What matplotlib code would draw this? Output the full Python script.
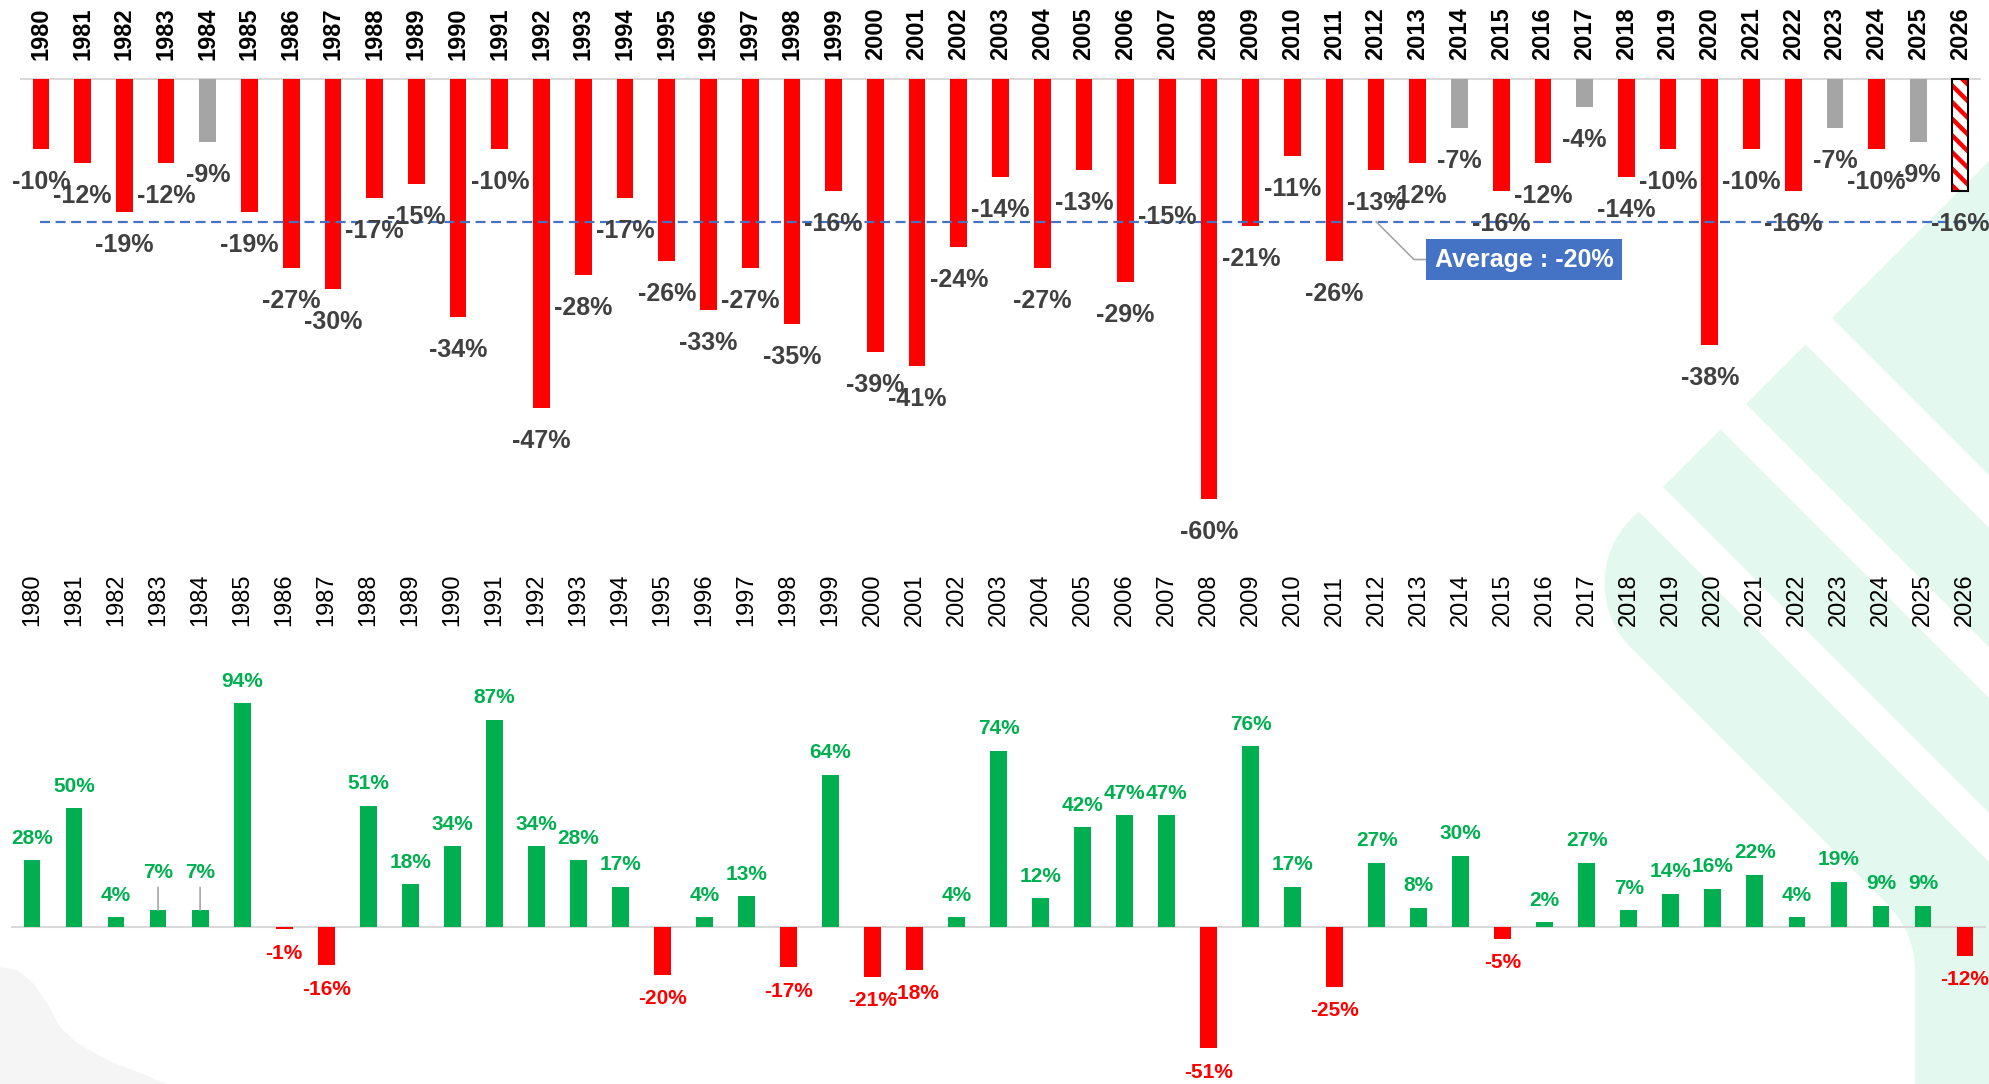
import matplotlib.pyplot as plt
import matplotlib.patches as mpatches
import numpy as np

plt.rcParams['font.family'] = ['Liberation Sans', 'DejaVu Sans']
plt.rcParams['hatch.linewidth'] = 3.2

# data
years = list(range(1980, 2027))
drawdown = [-10, -12, -19, -12, -9, -19, -27, -30, -17, -15, -34, -10, -47, -28, -17, -26,
            -33, -27, -35, -16, -39, -41, -24, -14, -27, -13, -29, -15, -60, -21, -11,
            -26, -13, -12, -7, -16, -12, -4, -14, -10, -38, -10, -16, -7, -10, -9, -16]
annual = [28, 50, 4, 7, 7, 94, -1, -16, 51, 18, 34, 87, 34, 28, 17, -20, 4, 13, -17, 64,
          -21, -18, 4, 74, 12, 42, 47, 47, -51, 76, 17, -25, 27, 8, 30, -5, 2, 27, 7, 14,
          16, 22, 4, 19, 9, 9, -12]
avg_anchor_year = 2012
lifted_years = [1983, 1984]  # labels pushed up with a leader line

RED = '#FF0000'
GREY = '#A5A5A5'
GREEN = '#00B050'
BLUE = '#4472C4'
MINT = '#E3F8EE'

W, H = 1990, 1084
fig = plt.figure(figsize=(W / 100, H / 100), dpi=100)


def to_fig(pts):
    return [(px / W, 1 - py / H) for px, py in pts]


def add_shape(pts, color):
    fig.patches.append(mpatches.Polygon(to_fig(pts), closed=True, transform=fig.transFigure,
                                        facecolor=color, edgecolor='none', zorder=-1))


# background decoration: diagonal stripes, coords in (t, s) = (x + y, x - y)
def ts(t, s):
    return ((t + s) / 2, (t - s) / 2)


add_shape([ts(2150, 1514), (1990, 2150 - 1990), (1990, 1990 - 1514)], MINT)
add_shape([ts(2150, 1342), ts(2150, 1461), (1990, 1990 - 1461), (1990, 1990 - 1342)], MINT)
add_shape([ts(2150, 1176), ts(2150, 1291), (1990, 1990 - 1291), (1990, 1990 - 1176)], MINT)

r = 130
th = np.linspace(np.pi, 1.5 * np.pi, 30)
cap = [ts(2150 + r + r * np.cos(a), 983 + r + r * np.sin(a)) for a in th]
corner = np.array([1915.0, 1915.0 - 983])
p0 = corner - 40 * np.array([1, 1]) / np.sqrt(2)
p2 = corner + np.array([0, 40])
u = np.linspace(0, 1, 15)
fillet = [tuple((1 - k) ** 2 * p0 + 2 * (1 - k) * k * corner + k ** 2 * p2) for k in u]
band_d = [ts(2150, 1127)] + cap + fillet + [(1915, 1084), (1990, 1084), (1990, 1990 - 1127)]
add_shape(band_d, MINT)

blob = [(0, 967), (17, 970), (33, 983), (47, 1003), (60, 1027), (77, 1043), (107, 1060),
        (140, 1073), (167, 1084), (0, 1084)]
add_shape(blob, '#F5F5F5')

x = np.arange(len(years))

# ---- top: drawdowns ----
scale1 = 7.0  # px per %
ax1 = fig.add_axes([20 / W, 1 - 560 / H, 1961 / W, 490 / H])
ax1.set_facecolor('none')
ax1.set_xlim(-0.5, len(years) - 0.5)
ax1.set_ylim(-(560 - 79) / scale1, (79 - 70) / scale1)

colors = [GREY if v > -10 else RED for v in drawdown]
ax1.bar(x[:-1], drawdown[:-1], width=0.4, color=colors[:-1], zorder=2)
ax1.bar(x[-1], drawdown[-1], width=0.4, color='white', hatch='\\\\', edgecolor=RED, lw=0, zorder=2)
ax1.bar(x[-1], drawdown[-1], width=0.4, fill=False, edgecolor='black', lw=1.5, zorder=2)
ax1.axhline(0, color='#D9D9D9', lw=1.5, zorder=1)

avg = np.mean(drawdown)
ax1.plot([-0.03, len(years) - 0.35], [avg, avg], ls=(0, (4.5, 2.5)), color=BLUE, lw=1.6,
         clip_on=False, zorder=3)
ax1.annotate(f'Average : {avg:.0f}%', xy=(years.index(avg_anchor_year), avg), xytext=(148, -38),
             textcoords='offset pixels', ha='center', va='center', color='white',
             fontsize=18, fontweight='bold',
             bbox=dict(boxstyle='square,pad=0.35', fc=BLUE, ec='none'),
             arrowprops=dict(arrowstyle='-', color='#A6A6A6', lw=1.2, shrinkA=0, shrinkB=0,
                             connectionstyle='angle,angleA=180,angleB=-45,rad=0'),
             zorder=5)

for i, v in enumerate(drawdown):
    ax1.annotate(f'{v}%', (i, v), xytext=(0, -33), textcoords='offset pixels',
                 ha='center', va='center', fontsize=18, fontweight='bold',
                 color='#404040', zorder=4)

ax1.xaxis.tick_top()
ax1.set_xticks(x)
ax1.set_xticklabels(years, rotation=90, fontsize=17, fontweight='bold')
ax1.tick_params(axis='x', length=0, pad=7)
ax1.set_yticks([])
for sp in ax1.spines.values():
    sp.set_visible(False)

# ---- bottom: annual returns ----
scale2 = 2.38
ax2 = fig.add_axes([11 / W, 0, 1975 / W, (1084 - 640) / H])
ax2.set_facecolor('none')
ax2.set_xlim(-0.5, len(years) - 0.5)
ax2.set_ylim(-(1084 - 927) / scale2, (927 - 640) / scale2)

colors2 = [GREEN if v >= 0 else RED for v in annual]
ax2.bar(x, annual, width=0.4, color=colors2, zorder=2)
ax2.axhline(0, color='#D9D9D9', lw=1.5, zorder=1)

for i, v in enumerate(annual):
    if years[i] in lifted_years:
        ax2.annotate(f'{v}%', (i, v), xytext=(0, 38), textcoords='offset pixels',
                     ha='center', va='center', fontsize=15, fontweight='bold',
                     color=colors2[i], zorder=4,
                     arrowprops=dict(arrowstyle='-', color='#A6A6A6', lw=1.2,
                                     shrinkA=2, shrinkB=0))
        continue
    off = 22 if v >= 0 else -24
    ax2.annotate(f'{v}%', (i, v), xytext=(0, off), textcoords='offset pixels',
                 ha='center', va='center', fontsize=15, fontweight='bold',
                 color=colors2[i], zorder=4)

ax2.xaxis.tick_top()
ax2.set_xticks(x)
ax2.set_xticklabels(years, rotation=90, fontsize=17,
                    family=['Liberation Sans Narrow', 'Liberation Sans'])
ax2.tick_params(axis='x', length=0, pad=10)
ax2.set_yticks([])
for sp in ax2.spines.values():
    sp.set_visible(False)

fig.savefig('out.png', dpi=100)
